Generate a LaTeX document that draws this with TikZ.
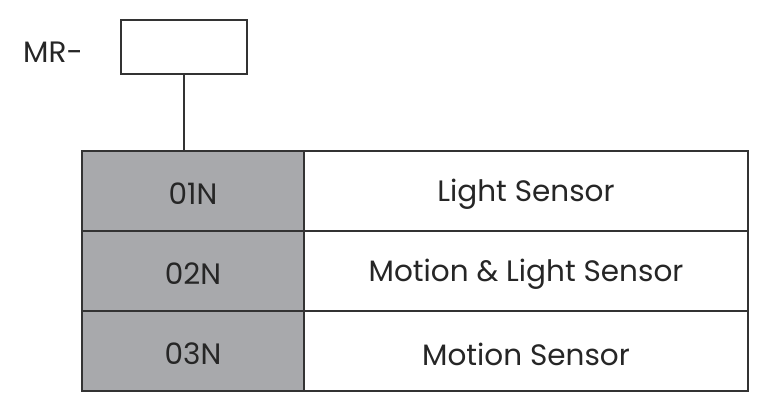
\documentclass[tikz,border=0pt]{standalone}
\usepackage{fontspec}
\setmainfont{Poppins}
\newcommand{\lowtext}[1]{\raisebox{-3pt}[\height][\depth]{#1}}
\begin{document}
\begin{tikzpicture}[x=1pt,y=-1pt,
  cell/.style={draw=black!80, line width=1.6pt, minimum height=80pt, inner sep=0pt, font=\fontsize{29.5}{34}\selectfont, text=black!85},
  codecell/.style={cell, fill={rgb,255:red,168;green,169;blue,172}, minimum width=222pt},
  desccell/.style={cell, fill=white, minimum width=444pt},
  lbl/.style={font=\fontsize{29.5}{34}\selectfont, text=black!85, inner sep=0pt}]
\useasboundingbox (0,0) rectangle (764,416);
\node[draw=black!80, line width=1.4pt, minimum width=126pt, minimum height=54pt, inner sep=0pt] (mr) at (184,47) {};
\node[lbl, anchor=east] (mrl) at (83,52) {MR-};
\node[codecell] (c1) at (193,191) {\lowtext{01N}};
\node[codecell] (c2) at (193,271) {\lowtext{02N}};
\node[codecell] (c3) at (193,351) {\lowtext{03N}};
\node[desccell] (d1) at (526,191) {\lowtext{Light Sensor}};
\node[desccell] (d2) at (526,271) {\lowtext{Motion \& Light Sensor}};
\node[desccell] (d3) at (526,351) {\lowtext{Motion Sensor}};
\draw[draw=black!80, line width=1.4pt] (mr.south) -- (mr.south |- c1.north);
\end{tikzpicture}
\end{document}
